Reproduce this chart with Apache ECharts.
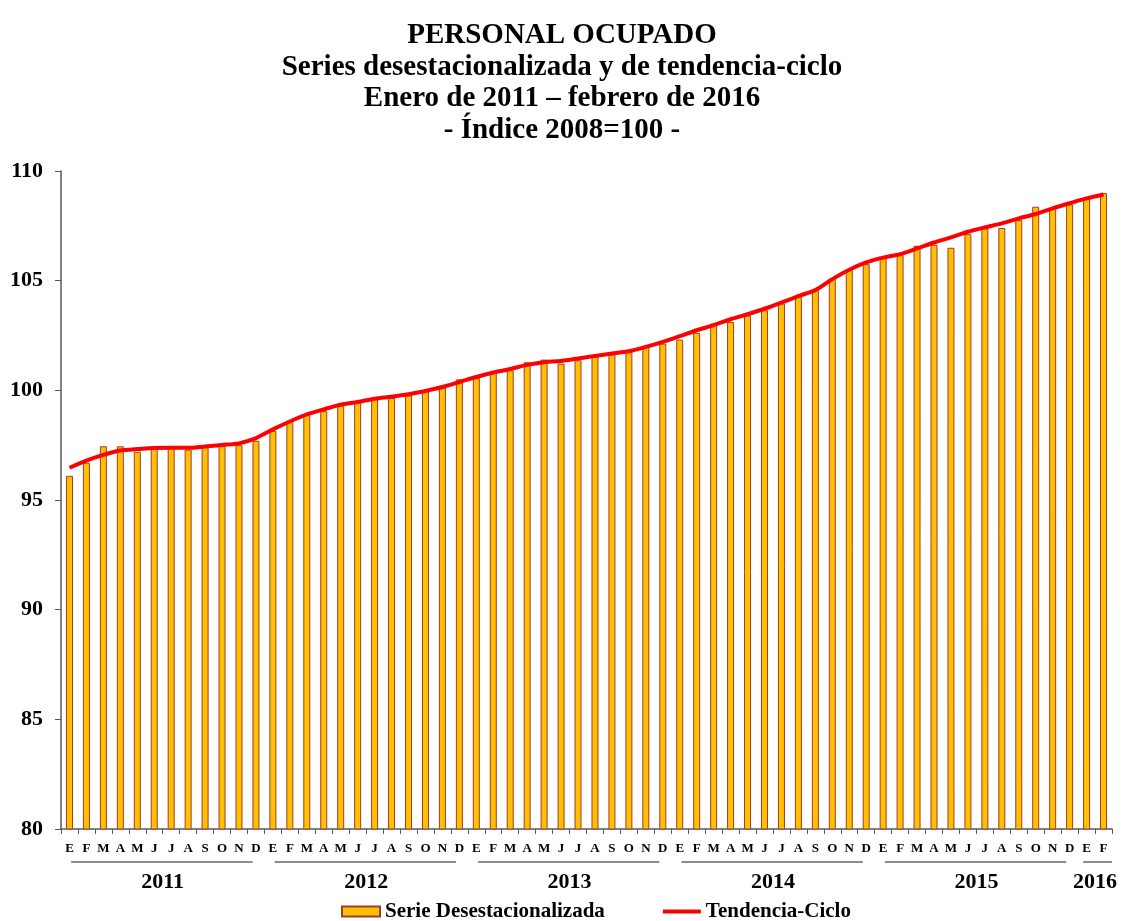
<!DOCTYPE html>
<html>
<head>
<meta charset="utf-8">
<script src="https://cdn.jsdelivr.net/npm/echarts@6/dist/echarts.min.js"></script>
<style>
  html, body { margin: 0; padding: 0; background: #fff; }
  #chart { width: 1124px; height: 921px; }
</style>
</head>
<body>
<div id="chart"></div>
<script>
var monthLetters = ['E', 'F', 'M', 'A', 'M', 'J', 'J', 'A', 'S', 'O', 'N', 'D'];
var years = ['2011', '2012', '2013', '2014', '2015', '2016'];
var monthsPerYear = [12, 12, 12, 12, 12, 2];

// Serie desestacionalizada (enero 2011 - febrero 2016)
var desest = [
  96.1, 96.7, 97.45, 97.45, 97.2, 97.35, 97.35, 97.3, 97.45, 97.5, 97.5, 97.7,
  98.15, 98.6, 98.88, 99.05, 99.3, 99.5, 99.6, 99.65, 99.77, 99.95, 100.1, 100.5,
  100.56, 100.8, 100.92, 101.28, 101.4, 101.22, 101.37, 101.52, 101.64, 101.75, 102.0, 102.13,
  102.31, 102.62, 103.04, 103.12, 103.41, 103.65, 103.96, 104.27, 104.57, 105.09, 105.53, 105.75,
  106.03, 106.16, 106.59, 106.64, 106.5, 107.12, 107.38, 107.4, 107.76, 108.37, 108.3, 108.48,
  108.72, 108.99
];

// Tendencia-ciclo
var tendencia = [
  96.47, 96.8, 97.06, 97.26, 97.32, 97.37, 97.38, 97.38, 97.44, 97.51, 97.58, 97.82,
  98.22, 98.58, 98.9, 99.13, 99.35, 99.47, 99.62, 99.71, 99.82, 99.97, 100.15, 100.38,
  100.61, 100.81, 100.97, 101.16, 101.28, 101.34, 101.45, 101.57, 101.68, 101.78, 101.98, 102.21,
  102.47, 102.74, 102.97, 103.24, 103.47, 103.72, 104.0, 104.3, 104.57, 105.07, 105.5, 105.83,
  106.05, 106.21, 106.47, 106.74, 106.97, 107.23, 107.43, 107.61, 107.84, 108.04, 108.3, 108.53,
  108.75, 108.93
];

var yTicks = { min: 80, max: 110, interval: 5 };

(function() {
  var serif = '"Liberation Serif", "DejaVu Serif", serif';

  var categories = [];
  var yearCenter = {};
  var yearSpans = [];
  var start = 0;
  years.forEach(function(y, k) {
    var n = monthsPerYear[k];
    for (var m = 0; m < n; m++) categories.push(y + '-' + monthLetters[m] + '-' + m);
    yearCenter[start + n / 2] = y;
    yearSpans.push(n > 2 ? [start + 0.6, start + n - 0.7] : [start + 0.3, start + n]);
    start += n;
  });
  var total = categories.length;

  var chart = echarts.init(document.getElementById('chart'), null, { renderer: 'canvas' });
  chart.setOption({
    animation: false,
    title: {
      text: 'PERSONAL OCUPADO\nSeries desestacionalizada y de tendencia-ciclo\nEnero de 2011 \u2013 febrero de 2016\n- \u00cdndice 2008=100 -',
      left: 'center',
      top: 15,
      textStyle: { fontFamily: serif, fontWeight: 'bold', fontSize: 29, lineHeight: 31.5, color: '#000' }
    },
    legend: {
      left: 336,
      top: 896,
      itemWidth: 38,
      itemHeight: 10,
      itemGap: 58,
      textStyle: { fontFamily: serif, fontWeight: 'bold', fontSize: 21, color: '#000' },
      data: [
        { name: 'Serie Desestacionalizada', icon: 'rect' },
        { name: 'Tendencia-Ciclo', icon: 'path://M0,0 L40,0 L40,4 L0,4 Z' }
      ]
    },
    grid: { left: 61, right: 12, top: 171, bottom: 92 },
    xAxis: [
      {
        type: 'category',
        data: categories,
        boundaryGap: true,
        axisLine: { lineStyle: { color: '#595959', width: 1.5 } },
        axisTick: { show: true, length: 5, lineStyle: { color: '#595959' } },
        axisLabel: {
          interval: 0,
          margin: 13,
          fontFamily: serif,
          fontWeight: 'bold',
          fontSize: 13,
          color: '#000',
          formatter: function(v) { return v.split('-')[1]; }
        }
      },
      {
        type: 'value',
        position: 'bottom',
        offset: 40,
        min: 0,
        max: total,
        interval: 1,
        axisLine: { show: false },
        axisTick: { show: false },
        splitLine: { show: false },
        axisLabel: {
          margin: 2,
          fontFamily: serif,
          fontWeight: 'bold',
          fontSize: 22,
          color: '#000',
          showMinLabel: true,
          showMaxLabel: true,
          formatter: function(v) { return yearCenter[v] || ''; }
        }
      }
    ],
    yAxis: {
      type: 'value',
      min: yTicks.min,
      max: yTicks.max,
      interval: yTicks.interval,
      axisLine: { show: true, lineStyle: { color: '#595959', width: 1.5 } },
      axisTick: { show: true, length: 6, lineStyle: { color: '#595959' } },
      splitLine: { show: false },
      axisLabel: { margin: 18, fontFamily: serif, fontWeight: 'bold', fontSize: 22, color: '#000' }
    },
    series: [
      {
        name: 'Serie Desestacionalizada',
        type: 'bar',
        barWidth: 7,
        itemStyle: { color: '#FFC000', borderColor: '#A33B2B', borderWidth: 1 },
        data: desest
      },
      {
        name: 'Tendencia-Ciclo',
        type: 'line',
        smooth: 0.3,
        symbol: 'none',
        lineStyle: { color: '#FF0000', width: 4 },
        itemStyle: { color: '#FF0000' },
        z: 5,
        data: tendencia
      }
    ]
  });

  // year underlines beneath the month letters
  var yPix = chart.convertToPixel({ yAxisIndex: 0 }, yTicks.min) + 33;
  var lines = yearSpans.map(function(s) {
    var x1 = chart.convertToPixel({ xAxisIndex: 1 }, s[0]);
    var x2 = chart.convertToPixel({ xAxisIndex: 1 }, s[1]);
    return {
      type: 'line',
      shape: { x1: x1, y1: yPix, x2: x2, y2: yPix },
      style: { stroke: '#666', lineWidth: 1.5 }
    };
  });
  chart.setOption({ graphic: lines });
})();
</script>
</body>
</html>
